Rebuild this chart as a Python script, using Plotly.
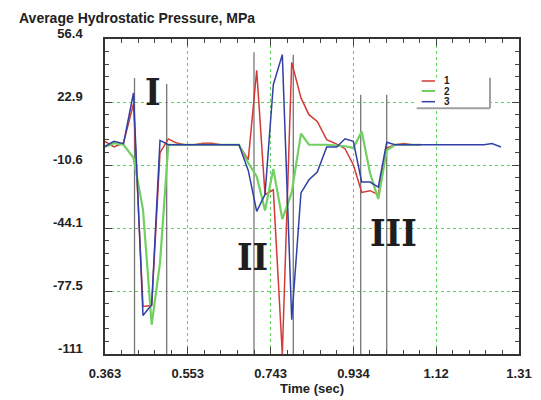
import plotly.graph_objects as go

# ---------------- data ----------------
time_s = [0.3630, 0.3836, 0.4053, 0.4282, 0.4499, 0.4698, 0.4888, 0.5078, 0.5270, 0.5460,
          0.5666, 0.5872, 0.6078, 0.6283, 0.6489, 0.6695, 0.6908, 0.7100, 0.7290, 0.7480,
          0.7686, 0.7901, 0.8113, 0.8296, 0.8486, 0.8701, 0.8930, 0.9120, 0.9310, 0.9502,
          0.9692, 0.9881, 1.0074, 1.0263, 1.0469, 1.0652, 1.0858, 1.1064, 1.1270, 1.1476,
          1.1682, 1.1888, 1.2093, 1.2299, 1.2482, 1.2688]

series_1 = [2.0, -1.0, 1.1, 22.0, -85.7, -85.2, -4.0, 3.3, 1.1, 0.2,
            0.2, 1.0, 1.0, 0.2, 0.2, 0.0, -7.7, 39.7, -26.3, -23.7,
            -111.0, 44.0, 25.1, 16.2, 12.6, 2.9, 0.5, -1.9, -10.4, -25.1,
            -24.2, -26.3, -1.5, 0.2, 0.8, 0.2, 0.2]

series_2 = [-1.0, 1.1, 0.2, -6.7, -34.3, -95.4, -62.6, 0.2, 0.2, 0.2,
            0.2, 0.2, 0.2, 0.2, 0.2, 0.2, -9.5, -16.6, -34.7, -12.7,
            -39.3, -25.1, 6.1, 0.2, 0.2, 0.2, -0.3, -0.6, -1.5, 7.3,
            -14.8, -28.6, -2.8, 0.2, 0.2, 0.2, 0.2]

series_3 = [-0.7, 2.0, 0.8, 27.7, -90.5, -84.8, 2.5, 0.2, 0.2, 0.2,
            0.2, 0.2, 0.2, 0.2, 0.2, 0.2, -13.6, -35.2, -26.3, 32.1,
            48.1, -92.8, -25.4, -18.4, -14.3, -1.0, -1.0, 3.4, 2.0, -19.6,
            -19.6, -22.3, 1.5, 0.2, 0.2, 0.2, 0.2, 0.2, 0.2, 0.2,
            0.2, 0.2, 0.2, 0.2, 0.8, -1.0]

series_names = ["1", "2", "3"]
series_colors = ["#d23a36", "#72cf62", "#3140a6"]

# phase markers (vertical lines): time and top value
marker_times = [0.4305, 0.5041, 0.7038, 0.7937, 0.9479, 1.0074]
marker_tops = [35.7, 32.5, 49.3, 48.0, 26.8, 26.8]

phase_labels = ["I", "II", "III"]
phase_x = [0.4721, 0.7015, 1.0218]
phase_y = [28.5, -59.3, -46.5]

x_tickvals = [0.363, 0.5524, 0.7418, 0.9312, 1.1206, 1.31]
x_ticktext = ["0.363", "0.553", "0.743", "0.934", "1.12", "1.31"]
y_tickvals = [-111.0, -77.52, -44.04, -10.56, 22.92, 56.4]
y_ticktext = ["-111", "-77.5", "-44.1", "-10.6", "22.9", "56.4"]

# ---------------- figure ----------------
fig = go.Figure()
for name, vals, col in zip(series_names, [series_1, series_2, series_3], series_colors):
    fig.add_trace(go.Scatter(
        x=time_s[:len(vals)], y=vals, mode="lines", name=name,
        line=dict(color=col, width=2.2 if name == "2" else 1.5),
        showlegend=False,
    ))

for t, top in zip(marker_times, marker_tops):
    fig.add_shape(type="line", xref="x", yref="y", x0=t, x1=t, y0=-111, y1=top,
                  line=dict(color="#767676", width=1.3), layer="between")

for lab, px, py in zip(phase_labels, phase_x, phase_y):
    fig.add_annotation(x=px, y=py, xref="x", yref="y", text=lab, showarrow=False,
                       font=dict(family="DejaVu Serif Condensed, DejaVu Serif", size=37,
                                 color="#1e1e1e", weight="bold"),
                       xanchor="center", yanchor="middle")

# manual legend box
lx0, lx1, ly0, ly1 = 0.7529, 0.930, 0.780, 0.877
fig.add_shape(type="rect", xref="paper", yref="paper", x0=lx0, x1=lx1, y0=ly0, y1=ly1,
              fillcolor="white", line=dict(width=0), layer="above")
fig.add_shape(type="line", xref="paper", yref="paper", x0=lx1, x1=lx1, y0=ly0, y1=ly1,
              line=dict(color="#a0a0a0", width=2), layer="above")
fig.add_shape(type="line", xref="paper", yref="paper", x0=lx0, x1=lx1, y0=ly0, y1=ly0,
              line=dict(color="#a0a0a0", width=2), layer="above")
legend_rows = [0.8667, 0.8349, 0.8010]
for name, col, ry in zip(series_names, series_colors, legend_rows):
    fig.add_shape(type="line", xref="paper", yref="paper", x0=0.7650, x1=0.7971, y0=ry, y1=ry,
                  line=dict(color=col, width=2 if name == "2" else 1.5), layer="above")
    fig.add_annotation(x=0.8150, y=ry, xref="paper", yref="paper", text=name, showarrow=False,
                       xanchor="left", yanchor="middle",
                       font=dict(family="Liberation Sans", size=10, color="#222", weight="bold"))

fig.add_annotation(x=-0.2133, y=1.068, xref="paper", yref="paper",
                   text="Average Hydrostatic Pressure, MPa", showarrow=False,
                   xanchor="left", yanchor="middle",
                   font=dict(family="Liberation Sans", size=14, color="#222", weight="bold"))

axis_common = dict(
    showline=True, linecolor="#333", linewidth=1.5, mirror="allticks",
    ticks="inside", ticklen=7, tickwidth=1.2, tickcolor="#444",
    showgrid=True, gridcolor="#5ccf5c", griddash="dot", gridwidth=1,
    zeroline=False, tickmode="array",
    tickfont=dict(family="Liberation Sans", size=13, color="#222", weight="bold"),
)

fig.update_xaxes(
    range=[0.363, 1.31], tickvals=x_tickvals, ticktext=x_ticktext,
    ticklabelstandoff=7,
    minor=dict(tickmode="linear", tick0=0.363, dtick=0.03788, ticks="inside", ticklen=4,
               tickcolor="#444", showgrid=False),
    title=dict(text="Time (sec)", standoff=3,
               font=dict(family="Liberation Sans", size=13, color="#222", weight="bold")),
    **axis_common,
)
fig.update_yaxes(
    range=[-111, 56.4], tickvals=y_tickvals, ticktext=y_ticktext,
    ticklabelstandoff=18, ticklabelshift=-6,
    minor=dict(tickmode="linear", tick0=-111, dtick=6.696, ticks="inside", ticklen=4,
               tickcolor="#444", showgrid=False),
    **axis_common,
)

fig.update_layout(
    width=541, height=400,
    margin=dict(l=105, r=22, t=39, b=46, autoexpand=False),
    paper_bgcolor="white", plot_bgcolor="white",
    showlegend=False,
)

fig.write_html("out.html")
